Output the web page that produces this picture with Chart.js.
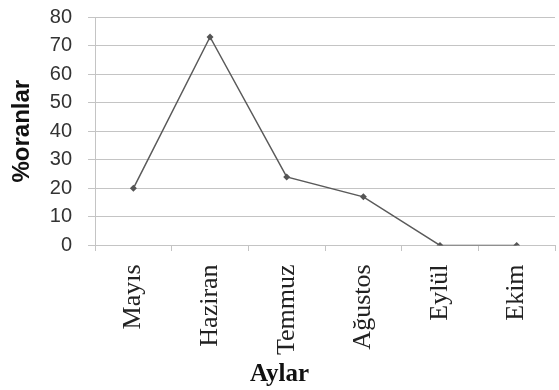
<!DOCTYPE html>
<html>
<head>
<meta charset="utf-8">
<script src="https://cdn.jsdelivr.net/npm/chart.js@4"></script>
<style>
  html, body { margin: 0; padding: 0; background: #fff; }
  #wrap { width: 559px; height: 390px; }
</style>
</head>
<body>
<div id="wrap"><canvas id="chart" width="559" height="390"></canvas></div>
<script>
// Months and percentages
const months = ['Mayıs', 'Haziran', 'Temmuz', 'Ağustos', 'Eylül', 'Ekim'];
const percents = [20, 73, 24, 17, 0, 0];
const yTicks = [0, 10, 20, 30, 40, 50, 60, 70, 80];

const gridGray = '#c4c4c4';

new Chart(document.getElementById('chart'), {
    type: 'line',
    data: {
        labels: months,
        datasets: [{
            data: percents,
            borderColor: '#5a5a5a',
            borderWidth: 1.5,
            backgroundColor: '#555',
            pointStyle: 'rectRot',
            pointRadius: 3.5,
            pointBorderWidth: 0,
            tension: 0
        }]
    },
    options: {
        responsive: false,
        animation: false,
        layout: { padding: 0 },
        plugins: {
            legend: { display: false },
            tooltip: { enabled: false },
            title: {
                display: true,
                position: 'bottom',
                text: 'Aylar',
                color: '#111',
                font: { family: '"Liberation Serif", "Times New Roman", serif', size: 25, weight: 'bold' },
                padding: { top: 0, bottom: 0 }
            }
        },
        scales: {
            x: {
                offset: true,
                grid: {
                    offset: true,
                    drawOnChartArea: false,
                    drawTicks: true,
                    tickLength: 14,
                    tickBorderDash: [6, 30],   // only a short visible tick
                    color: gridGray
                },
                border: { display: false },
                ticks: {
                    minRotation: 90,
                    maxRotation: 90,
                    padding: 5,
                    color: '#222',
                    font: { family: '"Liberation Serif", "Times New Roman", serif', size: 26 }
                }
            },
            y: {
                min: 0,
                max: 80,
                afterBuildTicks: (axis) => { axis.ticks = yTicks.map(v => ({ value: v })); },
                grid: {
                    color: gridGray,
                    tickLength: 18,
                    tickBorderDash: [7, 11],
                    tickBorderDashOffset: 7
                },
                border: { display: true, color: gridGray },
                ticks: {
                    autoSkip: false,
                    padding: 5,
                    color: '#333',
                    font: { family: '"Liberation Sans", Arial, sans-serif', size: 20 }
                },
                title: {
                    display: true,
                    text: '%oranlar',
                    color: '#111',
                    padding: { top: 8, bottom: 8 },
                    font: { family: '"Liberation Sans", Arial, sans-serif', size: 24, weight: 'bold' }
                }
            }
        }
    }
});
</script>
</body>
</html>
